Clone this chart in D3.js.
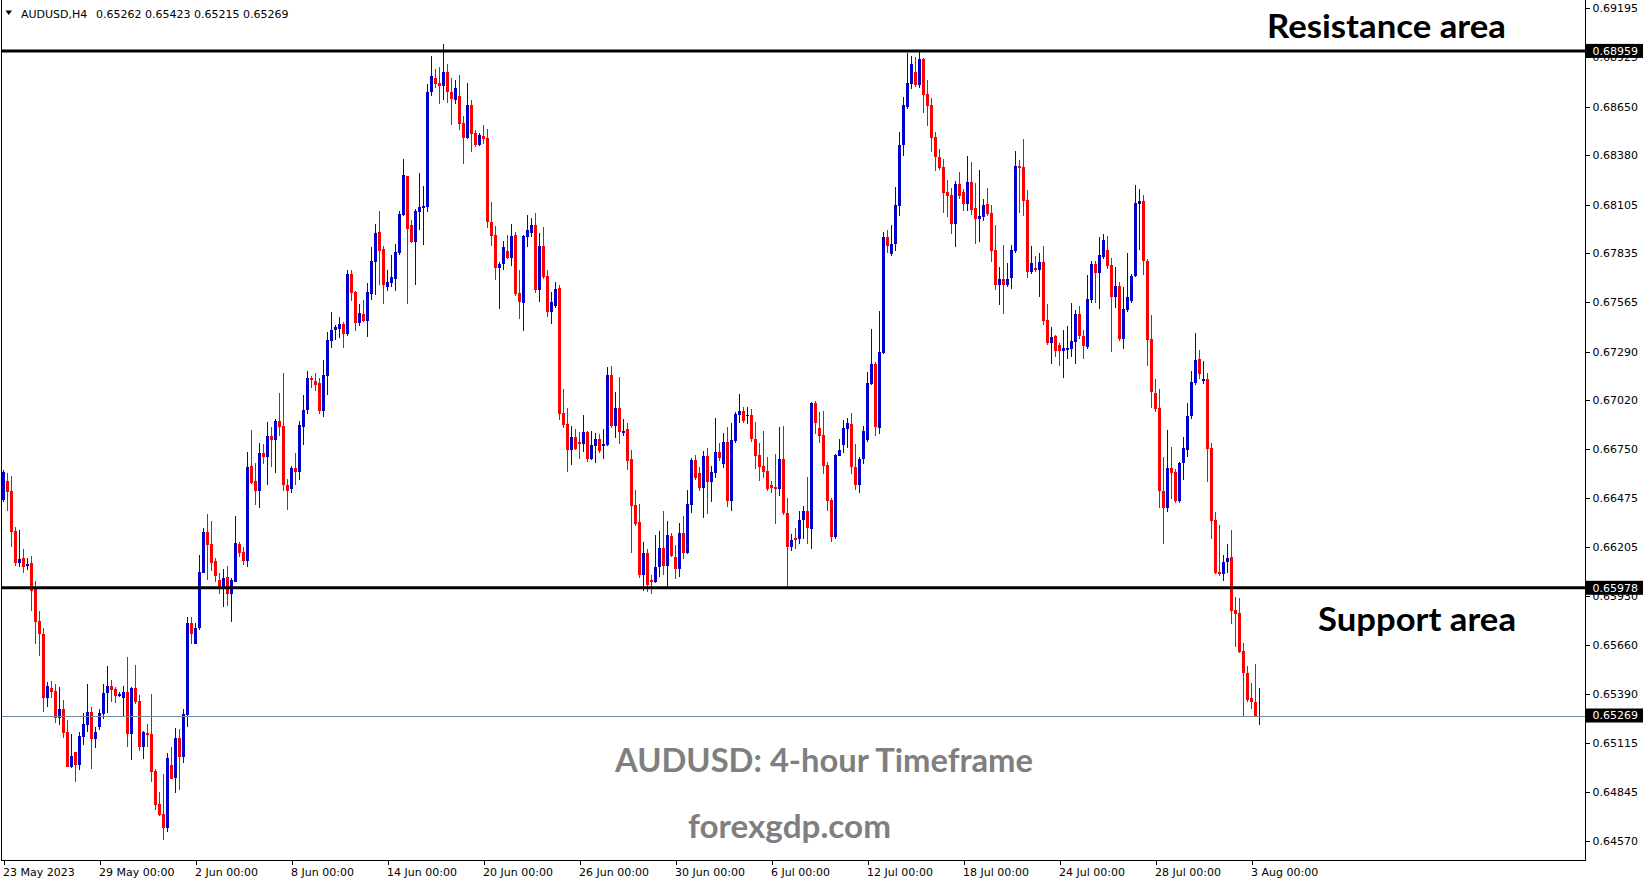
<!DOCTYPE html>
<html>
<head>
<meta charset="utf-8">
<script src="https://cdn.jsdelivr.net/npm/d3@7"></script>
<style>
  html, body { margin: 0; padding: 0; background: #ffffff; }
  svg { display: block; }
</style>
</head>
<body>
<div id="chart"></div>
<script>
// ---------------- DATA (AUDUSD, H4) ----------------
const symbol = "AUDUSD,H4";

const open = [
0.66466,0.66571,0.66516,0.66293,0.66116,0.66144,0.66099,0.66116,0.65972,0.65794,
0.65722,0.65366,0.65422,0.65405,0.65255,0.65305,0.65178,0.64983,0.65067,0.64994,
0.65150,0.65216,0.65289,0.65139,0.65205,0.65278,0.65394,0.65433,0.65416,0.65377,
0.65366,0.65400,0.65166,0.65422,0.65350,0.65094,0.65172,0.65166,0.64961,0.64778,
0.64722,0.64645,0.64994,0.64922,0.65144,0.65039,0.65272,0.65783,0.65666,0.65755,
0.66060,0.66288,0.66221,0.66127,0.66021,0.65977,0.66038,0.65944,0.66010,0.66221,
0.66177,0.66127,0.66654,0.66571,0.66516,0.66727,0.66704,0.66821,0.66799,0.66904,
0.66876,0.66549,0.66527,0.66643,0.66621,0.66871,0.66965,0.67143,0.67126,0.67115,
0.66960,0.67154,0.67348,0.67409,0.67415,0.67443,0.67387,0.67720,0.67620,0.67448,
0.67498,0.67459,0.67609,0.67787,0.67954,0.67859,0.67648,0.67670,0.67693,0.67837,
0.68048,0.68264,0.67992,0.67898,0.68065,0.68087,0.68092,0.68731,0.68809,0.68781,
0.68764,0.68842,0.68731,0.68686,0.68709,0.68559,0.68475,0.68659,0.68503,0.68437,
0.68487,0.68475,0.68009,0.67937,0.67754,0.67776,0.67848,0.67809,0.67937,0.67615,
0.67559,0.67926,0.67948,0.67992,0.67632,0.67876,0.67709,0.67509,0.67543,0.67643,
0.66949,0.66888,0.66743,0.66815,0.66788,0.66777,0.66843,0.66693,0.66765,0.66804,
0.66765,0.66771,0.67160,0.66876,0.66976,0.66838,0.66860,0.66693,0.66438,0.66344,
0.66049,0.66171,0.66021,0.66010,0.66094,0.66199,0.66099,0.66266,0.66149,0.66083,
0.66282,0.66171,0.66438,0.66688,0.66616,0.66532,0.66710,0.66566,0.66616,0.66732,
0.66666,0.66788,0.66460,0.66793,0.66938,0.66960,0.66932,0.66938,0.66804,0.66715,
0.66654,0.66627,0.66549,0.66538,0.66527,0.66693,0.66393,0.66205,0.66255,0.66249,
0.66355,0.66405,0.66305,0.67004,0.66865,0.66827,0.66660,0.66466,0.66260,0.66710,
0.66771,0.66860,0.66888,0.66649,0.66549,0.66693,0.66799,0.67110,0.67221,0.66865,
0.67282,0.67926,0.67831,0.67887,0.68098,0.68437,0.68648,0.68775,0.68842,0.68770,
0.68914,0.68720,0.68659,0.68481,0.68370,0.68314,0.68176,0.68159,0.67998,0.68220,
0.68176,0.68109,0.68231,0.68087,0.68026,0.68037,0.68109,0.68059,0.67854,0.67659,
0.67693,0.67659,0.67698,0.67848,0.68320,0.68314,0.68131,0.67731,0.67754,0.67743,
0.67787,0.67465,0.67337,0.67376,0.67326,0.67293,0.67298,0.67304,0.67343,0.67498,
0.67376,0.67315,0.67576,0.67776,0.67726,0.67815,0.67854,0.67770,0.67593,0.67654,
0.67360,0.67520,0.67570,0.67709,0.68109,0.68126,0.67793,0.67360,0.67060,0.66976,
0.66516,0.66421,0.66643,0.66621,0.66460,0.66671,0.66743,0.66932,0.67115,0.67248,
0.67126,0.67137,0.66754,0.66355,0.66066,0.66055,0.66121,0.66149,0.65855,0.65838,
0.65627,0.65505,0.65366,0.65344,0.65262];

const high = [
0.66632,0.66616,0.66599,0.66316,0.66299,0.66194,0.66144,0.66155,0.66016,0.65849,
0.65755,0.65455,0.65461,0.65444,0.65427,0.65355,0.65244,0.65166,0.65067,0.65178,
0.65283,0.65444,0.65316,0.65205,0.65305,0.65444,0.65544,0.65466,0.65427,0.65400,
0.65433,0.65594,0.65427,0.65550,0.65383,0.65183,0.65222,0.65389,0.64972,0.64844,
0.64944,0.65061,0.65094,0.65200,0.65194,0.65305,0.65816,0.65816,0.65783,0.66160,
0.66310,0.66388,0.66349,0.66144,0.66060,0.66083,0.66099,0.66033,0.66377,0.66232,
0.66205,0.66732,0.66854,0.66671,0.66782,0.66777,0.66899,0.66871,0.66915,0.67060,
0.67171,0.66582,0.66654,0.66727,0.66904,0.67049,0.67182,0.67154,0.67171,0.67143,
0.67243,0.67398,0.67509,0.67437,0.67482,0.67454,0.67743,0.67743,0.67626,0.67554,
0.67576,0.67670,0.67870,0.67998,0.68070,0.67876,0.67743,0.67826,0.67887,0.68070,
0.68359,0.68264,0.68020,0.68081,0.68281,0.68209,0.68775,0.68931,0.68859,0.68870,
0.68997,0.68886,0.68809,0.68797,0.68825,0.68598,0.68781,0.68686,0.68520,0.68503,
0.68548,0.68525,0.68120,0.67987,0.67787,0.67904,0.67937,0.67998,0.67954,0.67743,
0.67937,0.68048,0.68031,0.68059,0.67948,0.67981,0.67743,0.67620,0.67676,0.67659,
0.67082,0.66976,0.66876,0.66860,0.66843,0.66938,0.66849,0.66849,0.66838,0.66832,
0.66860,0.67204,0.67210,0.67065,0.67149,0.66915,0.66893,0.66743,0.66521,0.66443,
0.66232,0.66194,0.66049,0.66271,0.66293,0.66405,0.66349,0.66282,0.66216,0.66338,
0.66377,0.66521,0.66699,0.66715,0.66649,0.66738,0.66754,0.66654,0.66921,0.66782,
0.66838,0.66871,0.66893,0.66954,0.67054,0.66982,0.66982,0.66971,0.66899,0.66782,
0.66849,0.66704,0.66571,0.66721,0.66871,0.66876,0.66477,0.66277,0.66310,0.66405,
0.66432,0.66593,0.67010,0.67015,0.66954,0.66960,0.66677,0.66477,0.66721,0.66804,
0.66910,0.66921,0.66949,0.66777,0.66704,0.66876,0.67176,0.67415,0.67232,0.67515,
0.67954,0.67965,0.67992,0.68203,0.68509,0.68703,0.68947,0.68931,0.68925,0.68958,
0.68920,0.68797,0.68698,0.68509,0.68414,0.68359,0.68242,0.68198,0.68237,0.68287,
0.68192,0.68376,0.68342,0.68226,0.68298,0.68137,0.68198,0.68103,0.67992,0.67759,
0.67881,0.67781,0.67881,0.68403,0.68353,0.68470,0.68187,0.67876,0.67820,0.67837,
0.67876,0.67554,0.67426,0.67382,0.67337,0.67409,0.67432,0.67559,0.67520,0.67543,
0.67409,0.67715,0.67793,0.67793,0.67926,0.67942,0.67931,0.67809,0.67759,0.67676,
0.67648,0.67837,0.67720,0.68215,0.68192,0.68159,0.67804,0.67493,0.67137,0.67082,
0.66704,0.66854,0.66760,0.66638,0.66677,0.66815,0.67004,0.67182,0.67393,0.67298,
0.67237,0.67171,0.66782,0.66399,0.66327,0.66160,0.66221,0.66299,0.65927,0.65922,
0.65672,0.65544,0.65450,0.65555,0.65423];

const low = [
0.66455,0.66405,0.66205,0.66099,0.66094,0.66060,0.66077,0.65849,0.65666,0.65600,
0.65289,0.65316,0.65366,0.65228,0.65216,0.65144,0.64983,0.64978,0.64900,0.64967,
0.65105,0.65178,0.64972,0.65089,0.65189,0.65250,0.65283,0.65344,0.65339,0.65372,
0.65261,0.65094,0.65022,0.65333,0.65072,0.65028,0.65094,0.64900,0.64745,0.64711,
0.64578,0.64622,0.64917,0.64839,0.64856,0.65005,0.65205,0.65666,0.65666,0.65744,
0.66060,0.66021,0.66071,0.66010,0.65944,0.65872,0.65877,0.65788,0.66010,0.66149,
0.66105,0.66094,0.66554,0.66438,0.66421,0.66666,0.66549,0.66649,0.66616,0.66821,
0.66516,0.66410,0.66505,0.66549,0.66577,0.66771,0.66943,0.67087,0.67071,0.66943,
0.66926,0.67049,0.67310,0.67354,0.67365,0.67310,0.67376,0.67570,0.67404,0.67432,
0.67454,0.67371,0.67576,0.67604,0.67659,0.67554,0.67626,0.67648,0.67626,0.67826,
0.68042,0.67554,0.67892,0.67659,0.67965,0.67881,0.68065,0.68709,0.68753,0.68664,
0.68686,0.68670,0.68548,0.68664,0.68520,0.68331,0.68470,0.68398,0.68426,0.68431,
0.68442,0.67976,0.67876,0.67687,0.67526,0.67743,0.67804,0.67765,0.67598,0.67470,
0.67404,0.67870,0.67926,0.67615,0.67565,0.67693,0.67482,0.67443,0.67532,0.66910,
0.66865,0.66621,0.66660,0.66743,0.66693,0.66732,0.66677,0.66688,0.66671,0.66727,
0.66693,0.66765,0.66865,0.66810,0.66777,0.66821,0.66632,0.66171,0.66321,0.66033,
0.65960,0.65955,0.65944,0.66005,0.66038,0.66049,0.65977,0.66149,0.66027,0.66038,
0.66138,0.66166,0.66393,0.66577,0.66516,0.66366,0.66388,0.66455,0.66588,0.66682,
0.66643,0.66427,0.66405,0.66782,0.66893,0.66893,0.66888,0.66788,0.66638,0.66571,
0.66588,0.66516,0.66505,0.66332,0.66488,0.66382,0.65977,0.66182,0.66194,0.66221,
0.66249,0.66221,0.66194,0.66832,0.66782,0.66610,0.66405,0.66232,0.66249,0.66710,
0.66727,0.66754,0.66610,0.66521,0.66505,0.66666,0.66788,0.67104,0.66821,0.66832,
0.67276,0.67837,0.67820,0.67848,0.68042,0.68376,0.68636,0.68748,0.68759,0.68753,
0.68614,0.68542,0.68398,0.68292,0.68298,0.68059,0.68037,0.67942,0.67870,0.68137,
0.68070,0.68070,0.68048,0.67887,0.67898,0.68015,0.68042,0.67787,0.67632,0.67548,
0.67498,0.67648,0.67637,0.67837,0.68059,0.68042,0.67698,0.67720,0.67731,0.67593,
0.67437,0.67326,0.67221,0.67260,0.67210,0.67143,0.67248,0.67260,0.67221,0.67360,
0.67248,0.67304,0.67559,0.67559,0.67526,0.67804,0.67748,0.67287,0.67532,0.67348,
0.67304,0.67509,0.67559,0.67704,0.67854,0.67715,0.67210,0.66976,0.66954,0.66421,
0.66221,0.66399,0.66471,0.66449,0.66449,0.66577,0.66704,0.66915,0.67104,0.67137,
0.67110,0.66566,0.66249,0.66055,0.66044,0.66016,0.66060,0.65777,0.65650,0.65616,
0.65266,0.65344,0.65305,0.65261,0.65215];

const close = [
0.66621,0.66510,0.66288,0.66116,0.66138,0.66094,0.66110,0.65960,0.65788,0.65722,
0.65366,0.65433,0.65400,0.65255,0.65305,0.65172,0.64983,0.65044,0.64994,0.65155,
0.65222,0.65289,0.65139,0.65178,0.65283,0.65394,0.65433,0.65411,0.65377,0.65389,
0.65400,0.65166,0.65422,0.65344,0.65094,0.65178,0.65161,0.64956,0.64772,0.64717,
0.64645,0.65033,0.64917,0.65144,0.65039,0.65278,0.65783,0.65722,0.65755,0.66066,
0.66288,0.66216,0.66116,0.66044,0.65983,0.66033,0.65944,0.66021,0.66227,0.66171,
0.66127,0.66649,0.66560,0.66516,0.66727,0.66704,0.66821,0.66799,0.66904,0.66871,
0.66549,0.66516,0.66643,0.66621,0.66882,0.66965,0.67143,0.67132,0.67104,0.66960,
0.67160,0.67354,0.67409,0.67426,0.67443,0.67387,0.67720,0.67615,0.67448,0.67504,
0.67459,0.67620,0.67793,0.67948,0.67848,0.67659,0.67676,0.67704,0.67843,0.68054,
0.68270,0.67970,0.67898,0.68070,0.68092,0.68098,0.68731,0.68820,0.68775,0.68764,
0.68842,0.68731,0.68692,0.68753,0.68553,0.68475,0.68659,0.68498,0.68437,0.68492,
0.68470,0.68009,0.67931,0.67754,0.67776,0.67870,0.67809,0.67931,0.67609,0.67565,
0.67931,0.67965,0.67992,0.67632,0.67876,0.67704,0.67509,0.67565,0.67637,0.66943,
0.66882,0.66743,0.66815,0.66749,0.66777,0.66843,0.66693,0.66771,0.66804,0.66738,
0.66777,0.67160,0.66876,0.66976,0.66843,0.66849,0.66682,0.66432,0.66332,0.66049,
0.66171,0.65994,0.66010,0.66094,0.66199,0.66099,0.66271,0.66155,0.66083,0.66282,
0.66171,0.66443,0.66688,0.66588,0.66532,0.66710,0.66566,0.66621,0.66732,0.66699,
0.66788,0.66460,0.66799,0.66943,0.66960,0.66904,0.66938,0.66804,0.66710,0.66649,
0.66621,0.66527,0.66532,0.66527,0.66693,0.66393,0.66205,0.66244,0.66244,0.66355,
0.66405,0.66310,0.67004,0.66893,0.66821,0.66654,0.66460,0.66260,0.66715,0.66743,
0.66865,0.66893,0.66649,0.66549,0.66693,0.66849,0.67115,0.67221,0.66871,0.67287,
0.67926,0.67876,0.67887,0.68103,0.68437,0.68659,0.68781,0.68886,0.68770,0.68914,
0.68714,0.68653,0.68475,0.68370,0.68309,0.68170,0.68153,0.67998,0.68220,0.68153,
0.68109,0.68231,0.68076,0.68026,0.68042,0.68103,0.68054,0.67848,0.67659,0.67693,
0.67659,0.67693,0.67854,0.68320,0.68309,0.68126,0.67731,0.67781,0.67743,0.67787,
0.67459,0.67337,0.67371,0.67293,0.67293,0.67310,0.67310,0.67348,0.67498,0.67376,
0.67321,0.67582,0.67776,0.67726,0.67826,0.67909,0.67765,0.67593,0.67654,0.67360,
0.67526,0.67593,0.67709,0.68115,0.68126,0.67793,0.67354,0.67065,0.66971,0.66516,
0.66421,0.66643,0.66616,0.66460,0.66671,0.66754,0.66932,0.67121,0.67243,0.67165,
0.67137,0.66749,0.66349,0.66060,0.66055,0.66121,0.66144,0.65849,0.65833,0.65622,
0.65505,0.65355,0.65344,0.65261,0.65269];

// time-axis labels (one every 24 H4 bars = 4 trading days)
const timeLabels = ["23 May 2023","29 May 00:00","2 Jun 00:00","8 Jun 00:00","14 Jun 00:00",
  "20 Jun 00:00","26 Jun 00:00","30 Jun 00:00","6 Jul 00:00","12 Jul 00:00",
  "18 Jul 00:00","24 Jul 00:00","28 Jul 00:00","3 Aug 00:00"];
const barsPerLabel = 24;

// price-axis tick labels
const priceTicks = [0.69195,0.68925,0.68650,0.68380,0.68105,0.67835,0.67565,0.67290,0.67020,
  0.66750,0.66475,0.66205,0.65930,0.65660,0.65390,0.65115,0.64845,0.64570];

// horizontal levels
const resistanceLevel = 0.68959;
const supportLevel = 0.65978;

// texts
const resistanceText = "Resistance area";
const supportText = "Support area";
const titleText = "AUDUSD: 4-hour Timeframe";
const siteText = "forexgdp.com";

// ---------------- DRAWING ----------------
const W = 1649, H = 884;
const n = close.length;
const bars = d3.range(n).map(i => ({ i, o: open[i], h: high[i], l: low[i], c: close[i] }));

const svg = d3.select("#chart").append("svg")
  .attr("width", W).attr("height", H)
  .style("font-family", "'DejaVu Sans', Verdana, sans-serif");

svg.append("rect").attr("width", W).attr("height", H).attr("fill", "#fff");

const plotLeft = 1.5, plotRight = 1585.5, plotBottom = 860.5;

const x = d3.scaleLinear().domain([0, n - 1]).range([3.5, 3.5 + 4 * (n - 1)]);
const y = d3.scaleLinear().domain([0.64570, 0.69195]).range([841.4, 8.4]);

const bullColor = "#0000cd", bearColor = "#ff0000";

// candles
const cg = svg.append("g").attr("shape-rendering", "crispEdges");
cg.selectAll("rect.wick").data(bars).join("rect")
  .attr("class", "wick")
  .attr("x", d => x(d.i) - 0.5)
  .attr("width", 1)
  .attr("y", d => y(Math.max(d.h, d.o, d.c)))
  .attr("height", d => Math.max(1, y(Math.min(d.l, d.o, d.c)) - y(Math.max(d.h, d.o, d.c))))
  .attr("fill", d => d.c >= d.o ? bullColor : bearColor);
cg.selectAll("rect.body").data(bars).join("rect")
  .attr("class", "body")
  .attr("x", d => x(d.i) - 1.5)
  .attr("width", 3)
  .attr("y", d => y(Math.max(d.o, d.c)))
  .attr("height", d => Math.max(1, Math.abs(y(d.o) - y(d.c))))
  .attr("fill", d => d.c >= d.o ? bullColor : bearColor);

// current price line
const last = close[n - 1];
svg.append("line")
  .attr("x1", plotLeft).attr("x2", plotRight)
  .attr("y1", Math.round(y(last)) + 0.5).attr("y2", Math.round(y(last)) + 0.5)
  .attr("stroke", "#778899").attr("stroke-width", 1);

// resistance / support lines
[resistanceLevel, supportLevel].forEach(v => {
  svg.append("line")
    .attr("x1", plotLeft).attr("x2", plotRight)
    .attr("y1", y(v)).attr("y2", y(v))
    .attr("stroke", "#000").attr("stroke-width", 3);
});

// frame
const frame = svg.append("g").attr("stroke", "#000").attr("stroke-width", 1).attr("shape-rendering", "crispEdges");
frame.append("line").attr("x1", plotLeft).attr("x2", plotLeft).attr("y1", 0).attr("y2", plotBottom);
frame.append("line").attr("x1", plotRight).attr("x2", plotRight).attr("y1", 0).attr("y2", plotBottom);
frame.append("line").attr("x1", plotLeft).attr("x2", plotRight).attr("y1", plotBottom).attr("y2", plotBottom);

// price axis
const yAxis = d3.axisRight(y).tickValues(priceTicks).tickFormat(d3.format(".5f")).tickSize(4).tickPadding(3);
const yg = svg.append("g").attr("transform", `translate(${plotRight},0)`).call(yAxis);
yg.select(".domain").remove();
yg.selectAll("line").attr("stroke", "#000").attr("shape-rendering", "crispEdges");
yg.selectAll("text").attr("font-size", 11).attr("fill", "#000")
  .attr("font-family", "'DejaVu Sans', sans-serif");

// time axis
const tickIdx = timeLabels.map((_, k) => k * barsPerLabel);
const xAxis = d3.axisBottom(x).tickValues(tickIdx).tickFormat((d, k) => timeLabels[k]).tickSize(4);
const xg = svg.append("g").attr("transform", `translate(0,${plotBottom})`).call(xAxis);
xg.select(".domain").remove();
xg.selectAll("line").attr("stroke", "#000").attr("shape-rendering", "crispEdges");
xg.selectAll("text").attr("font-size", 11).attr("fill", "#000")
  .attr("font-family", "'DejaVu Sans', sans-serif")
  .attr("text-anchor", "start").attr("x", -1).attr("y", 15.5).attr("dy", 0);

// black price tags
const fmt = d3.format(".5f");
[resistanceLevel, supportLevel, last].forEach(v => {
  const yy = y(v);
  svg.append("rect").attr("x", 1586).attr("y", yy - 7).attr("width", 57).attr("height", 14).attr("fill", "#000");
  svg.append("text").attr("x", 1592.5).attr("y", yy).attr("dy", "0.35em")
    .attr("font-size", 11).attr("fill", "#fff").attr("font-family", "'DejaVu Sans', sans-serif")
    .text(fmt(v));
});

// header
svg.append("path").attr("d", "M5.5,10.5 L12,10.5 L8.75,15 Z").attr("fill", "#000");
svg.append("text").attr("x", 21).attr("y", 17.5).attr("font-size", 11).attr("fill", "#000")
  .text(symbol);
svg.append("text").attr("x", 96).attr("y", 17.5).attr("font-size", 11).attr("fill", "#000")
  .text([open[n - 1], high[n - 1], low[n - 1], close[n - 1]].map(fmt).join(" "));

// annotations
const big = (t, xx, yy, size, fill, len) => svg.append("text")
  .attr("x", xx).attr("y", yy).attr("font-size", size).attr("font-weight", 700)
  .attr("font-family", "Lato, 'Open Sans', sans-serif").attr("fill", fill)
  .attr("textLength", len).attr("lengthAdjust", "spacingAndGlyphs").text(t);

big(resistanceText, 1267, 37.5, 33, "#000", 239);
big(supportText, 1318, 631, 33, "#000", 198);
big(titleText, 615, 772, 32, "#7f7f7f", 418);
big(siteText, 688, 838, 32, "#7f7f7f", 203);
</script>
</body>
</html>
